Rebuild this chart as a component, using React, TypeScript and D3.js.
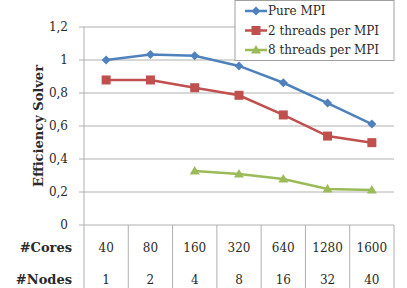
import React from "react";
import * as d3 from "d3";

const cores = ["40", "80", "160", "320", "640", "1280", "1600"];
const nodes = ["1", "2", "4", "8", "16", "32", "40"];
const pureMPI: (number | null)[] = [1.0, 1.034, 1.026, 0.964, 0.862, 0.739, 0.612];
const threads2: (number | null)[] = [0.879, 0.879, 0.832, 0.786, 0.667, 0.539, 0.499];
const threads8: (number | null)[] = [null, null, 0.327, 0.309, 0.279, 0.218, 0.212];
const yTicks = [0, 0.2, 0.4, 0.6, 0.8, 1.0, 1.2];
const seriesNames = ["Pure MPI", "2 threads per MPI", "8 threads per MPI"];

const FONT = "'DejaVu Serif', serif";
const colors = ["#4F81BD", "#C0504D", "#9BBB59"];

function Marker({ kind, x, y, color }: { kind: number; x: number; y: number; color: string }) {
  if (kind === 0) {
    const s = 4.5;
    return <path d={`M${x},${y - s}L${x + s},${y}L${x},${y + s}L${x - s},${y}Z`} fill={color} />;
  }
  if (kind === 1) {
    const s = 4.5;
    return <rect x={x - s} y={y - s} width={2 * s} height={2 * s} fill={color} />;
  }
  const s = 5;
  return <path d={`M${x},${y - s}L${x + s},${y + s * 0.7}L${x - s},${y + s * 0.7}Z`} fill={color} />;
}

export default function App() {
  const W = 407, H = 288;
  const left = 84, right = 394, top = 27, bottom = 225;
  const x = d3.scaleBand<string>().domain(cores).range([left, right]);
  const y = d3.scaleLinear().domain([0, 1.2]).range([bottom, top]);
  const cx = (i: number) => (x(cores[i]) as number) + x.bandwidth() / 2;
  const allSeries = [pureMPI, threads2, threads8];
  const line = d3
    .line<number | null>()
    .defined((d) => d !== null)
    .x((_, i) => cx(i))
    .y((d) => y(d as number));
  const fmt = (v: number) => (v === 0 || v === 1 ? String(v) : v.toFixed(1).replace(".", ","));
  const ts = { fontFamily: FONT } as React.CSSProperties;
  const txt = "#2a2a2a";

  return (
    <svg width={W} height={H} style={{ position: "absolute", left: 0, top: 0, fontFamily: FONT }}>
      <rect width={W} height={H} fill="#fff" />
      {yTicks.map((t) => (
        <g key={t}>
          <line x1={left - 5} x2={right} y1={y(t)} y2={y(t)} stroke="#b0b0b0" strokeWidth={1} />
          <text x={68} y={y(t)} textAnchor="end" dominantBaseline="central" fontSize={12} fill={txt} style={ts}>
            {fmt(t)}
          </text>
        </g>
      ))}
      <line x1={left} x2={left} y1={top} y2={H} stroke="#b0b0b0" />
      {cores.map((c) => (
        <line
          key={c}
          x1={(x(c) as number) + x.bandwidth()}
          x2={(x(c) as number) + x.bandwidth()}
          y1={bottom}
          y2={H}
          stroke="#b0b0b0"
        />
      ))}
      {cores.map((c, i) => (
        <text key={"c" + c} x={cx(i)} y={248} textAnchor="middle" dominantBaseline="central" fontSize={12} fill={txt} style={ts}>
          {c}
        </text>
      ))}
      {nodes.map((n, i) => (
        <text key={"n" + i} x={cx(i)} y={280} textAnchor="middle" dominantBaseline="central" fontSize={12} fill={txt} style={ts}>
          {n}
        </text>
      ))}
      <text x={72} y={247} textAnchor="end" dominantBaseline="central" fontSize={13} fontWeight="bold" fill={txt} style={ts}>
        #Cores
      </text>
      <text x={72} y={279} textAnchor="end" dominantBaseline="central" fontSize={13} fontWeight="bold" fill={txt} style={ts}>
        #Nodes
      </text>
      <text
        transform={`translate(38,126) rotate(-90)`}
        textAnchor="middle"
        dominantBaseline="central"
        fontSize={13}
        fontWeight="bold"
        fill={txt}
        style={ts}
        textLength={122}
        lengthAdjust="spacingAndGlyphs"
      >
        Efficiency Solver
      </text>
      {allSeries.map((s, k) => (
        <g key={k}>
          <path d={line(s) || ""} fill="none" stroke={colors[k]} strokeWidth={2.5} />
          {s.map((v, i) => (v === null ? null : <Marker key={i} kind={k} x={cx(i)} y={y(v)} color={colors[k]} />))}
        </g>
      ))}
      <rect x={235} y={0.5} width={159} height={60} fill="#fff" stroke="#a0a0a0" />
      {seriesNames.map((n, k) => {
        const ly = 11 + k * 19.5;
        return (
          <g key={n}>
            <line x1={245} x2={267} y1={ly} y2={ly} stroke={colors[k]} strokeWidth={2.5} />
            <Marker kind={k} x={256} y={ly} color={colors[k]} />
            <text x={268} y={ly} dominantBaseline="central" fontSize={12} fill={txt} style={ts}>
              {n}
            </text>
          </g>
        );
      })}
    </svg>
  );
}
